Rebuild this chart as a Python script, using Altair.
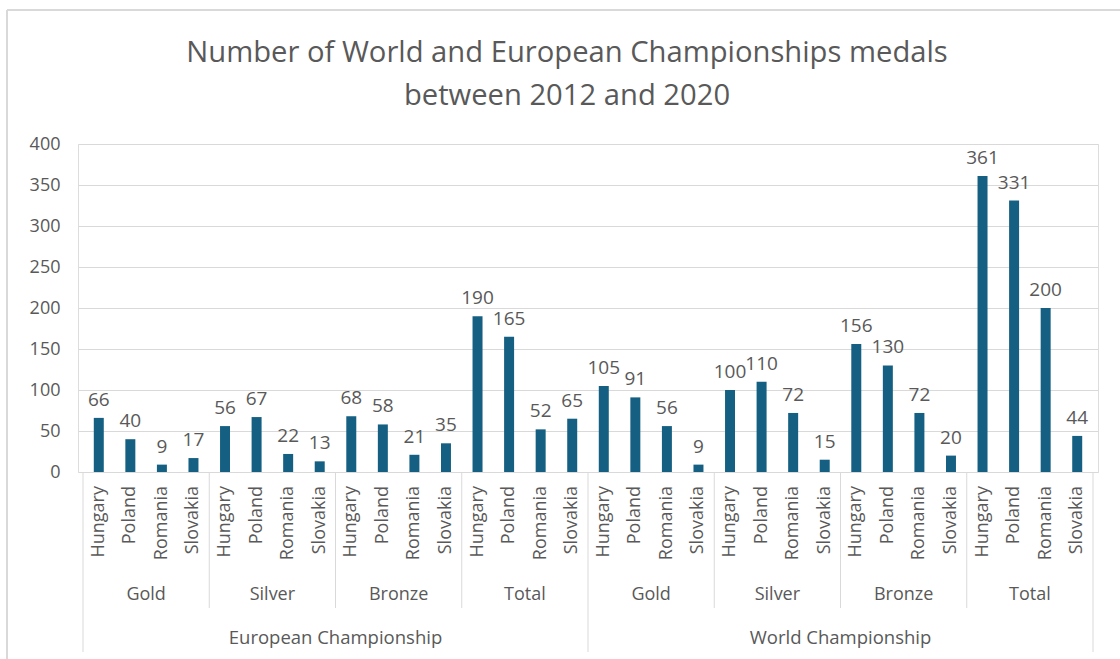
import altair as alt
import pandas as pd

title_lines = ["Number of World and European Championships medals", "between 2012 and 2020"]
championships = ["European Championship", "World Championship"]
medals = ["Gold", "Silver", "Bronze", "Total"]
countries = ["Hungary", "Poland", "Romania", "Slovakia"]

eu_gold = [66, 40, 9, 17]
eu_silver = [56, 67, 22, 13]
eu_bronze = [68, 58, 21, 35]
eu_total = [190, 165, 52, 65]
world_gold = [105, 91, 56, 9]
world_silver = [100, 110, 72, 15]
world_bronze = [156, 130, 72, 20]
world_total = [361, 331, 200, 44]

series = [
    [eu_gold, eu_silver, eu_bronze, eu_total],
    [world_gold, world_silver, world_bronze, world_total],
]

y_ticks = [0, 50, 100, 150, 200, 250, 300, 350, 400]

FONT = "Open Sans"
TXT = "#595959"
GRID = "#d9d9d9"
BAR = "#156082"

rows = []
i = 0
for c, champ in enumerate(championships):
    for m, medal in enumerate(medals):
        for k, country in enumerate(countries):
            rows.append({"pos": i + 0.5, "champ": champ, "medal": medal,
                         "country": country, "value": series[c][m][k]})
            i += 1
df = pd.DataFrame(rows)

groups = pd.DataFrame([{"pos": (c * 4 + m) * 4 + 2, "label": medal}
                       for c in range(2) for m, medal in enumerate(medals)])
champs = pd.DataFrame([{"pos": c * 16 + 8, "label": ch} for c, ch in enumerate(championships)])
minor_sep = pd.DataFrame({"pos": [4, 8, 12, 20, 24, 28]})
major_sep = pd.DataFrame({"pos": [0, 16, 32]})
one = pd.DataFrame({"a": [0]})

W, H = 1020, 328
xscale = alt.Scale(domain=[0, 32], nice=False, zero=False)
X = lambda: alt.X("pos:Q", scale=xscale, axis=None)

bars = alt.Chart(df).mark_bar(color=BAR, size=10).encode(
    x=X(),
    y=alt.Y("value:Q", scale=alt.Scale(domain=[0, 400], nice=False),
            axis=alt.Axis(values=y_ticks, title=None, grid=True, gridColor=GRID,
                          domain=False, ticks=False, labelPadding=18,
                          labelFontSize=18, labelColor=TXT, labelFont=FONT)),
)

labels = alt.Chart(df).mark_text(font=FONT, fontSize=19, color=TXT,
                                 baseline="alphabetic", dy=-12).encode(
    x=X(), y="value:Q", text="value:Q")

country_lbl = alt.Chart(df).mark_text(font=FONT, fontSize=18, color=TXT, angle=270,
                                      align="right", baseline="middle").encode(
    x=X(), y=alt.value(342), text="country:N")

group_lbl = alt.Chart(groups).mark_text(font=FONT, fontSize=18, color=TXT,
                                        baseline="middle").encode(
    x=X(), y=alt.value(451), text="label:N")

champ_lbl = alt.Chart(champs).mark_text(font=FONT, fontSize=18.5, color=TXT,
                                        baseline="middle").encode(
    x=X(), y=alt.value(494), text="label:N")

minor = alt.Chart(minor_sep).mark_rule(color=GRID, strokeWidth=1).encode(
    x=X(), y=alt.value(H), y2=alt.value(464))
major = alt.Chart(major_sep).mark_rule(color=GRID, strokeWidth=1).encode(
    x=X(), y=alt.value(H), y2=alt.value(508))

frame_left = alt.Chart(one).mark_rule(color=GRID, strokeWidth=2).encode(
    x=alt.value(-71), y=alt.value(-134), y2=alt.value(520))
frame_top = alt.Chart(one).mark_rule(color=GRID, strokeWidth=2).encode(
    x=alt.value(-71), x2=alt.value(1050), y=alt.value(-134))

title = alt.Chart(one).mark_text(
    text=title_lines, font=FONT, fontSize=29.2, color=TXT, lineHeight=43,
    align="center", baseline="middle").encode(
    x=alt.value(489), y=alt.value(-91))

chart = alt.layer(
    frame_left, frame_top, minor, major, bars, labels, country_lbl, group_lbl, champ_lbl, title
).properties(
    width=W, height=H,
    autosize=alt.AutoSizeParams(type="none"),
    padding={"left": 78, "top": 144, "right": 22, "bottom": 187},
).configure_view(stroke=None).configure(background="white")

chart.save("out.html", embed_options={"renderer": "svg", "actions": False})
